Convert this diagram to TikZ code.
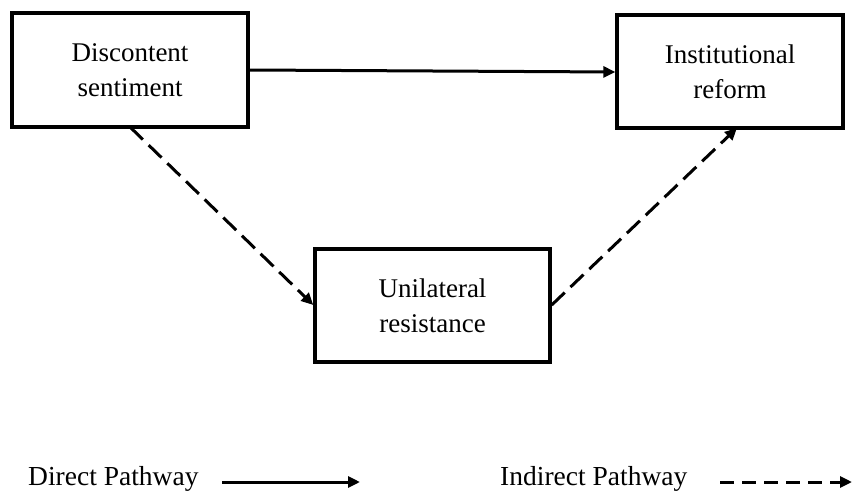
\documentclass[tikz,border=0pt]{standalone}
\usepackage{fontspec}
\setmainfont{Liberation Serif}
\usetikzlibrary{arrows.meta}
\begin{document}
\begin{tikzpicture}[x=1pt,y=-1pt,
  box/.style={draw,line width=3.4pt,inner sep=0pt,align=center,font=\fontsize{27}{35}\selectfont},
  conn/.style={line width=3pt,-{Triangle[length=12pt,width=11pt]}},
  dsh/.style={conn,dash pattern=on 18pt off 8pt},
  lab/.style={font=\fontsize{27.5}{33}\selectfont,anchor=base west,inner sep=0pt}]
\useasboundingbox (0,0) rectangle (853,492);
\node[box,minimum width=236pt,minimum height=114pt] (d) at (130,70) {Discontent\\sentiment};
\node[box,minimum width=226pt,minimum height=113pt] (i) at (730,71.5) {Institutional\\reform};
\node[box,minimum width=235pt,minimum height=113pt] (u) at (432.5,305.5) {Unilateral\\resistance};
\draw[conn] (d.east |- 0,70) -- (i.west |- 0,72);
\draw[dsh] (130,127) -- (u.west |- 0,305);
\draw[dsh] (u.east |- 0,305) -- (737,128);
\node[lab] (l1) at (28,485.5) {Direct Pathway};
\coordinate (a1s) at (222,482);
\coordinate (a1e) at (360,482);
\draw[conn] (a1s) -- (a1e);
\node[lab] (l2) at (500,485.5) {Indirect Pathway};
\coordinate (a2s) at (720,482);
\coordinate (a2e) at (852,482);
\draw[conn,dash pattern=on 14pt off 8pt] (a2s) -- (a2e);
\end{tikzpicture}
\end{document}
